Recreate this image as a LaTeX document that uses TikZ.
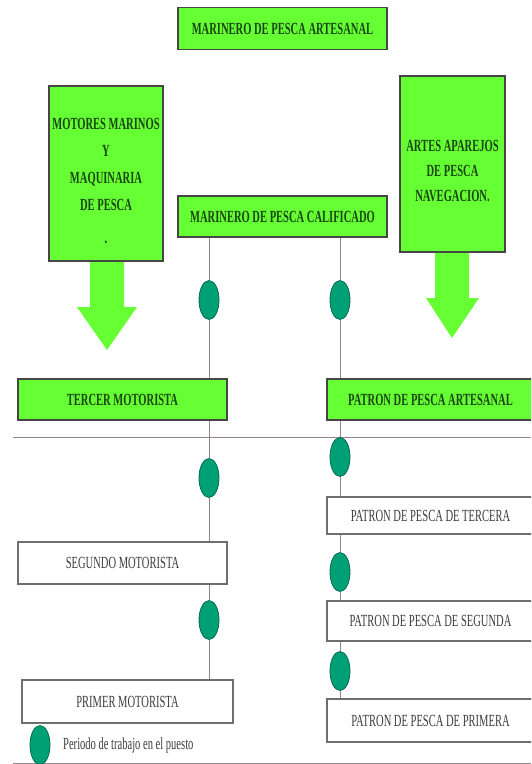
\documentclass[tikz,border=0pt]{standalone}
\usepackage{fontspec}
\setmainfont{Liberation Serif}
\newfontfamily\narrow[FakeStretch=0.62]{Liberation Serif}
\usetikzlibrary{shapes.geometric}
\definecolor{limegreen}{RGB}{102,255,51}
\definecolor{boxline}{RGB}{70,70,70}
\definecolor{boxgray}{RGB}{110,110,110}
\definecolor{textgray}{RGB}{60,60,60}
\definecolor{textgreen}{RGB}{25,70,20}
\definecolor{tealgreen}{RGB}{0,160,118}
\definecolor{tealdark}{RGB}{0,105,80}
\definecolor{rulecol}{RGB}{150,132,138}
\begin{document}
\begin{tikzpicture}[x=1pt,y=-1pt,
  greenbox/.style={draw=boxline,line width=1.6pt,fill=limegreen,inner sep=0pt,text=textgreen,
    font=\narrow\bfseries\fontsize{17}{19}\selectfont,minimum width=209pt,minimum height=42pt},
  bodytext/.style={align=center,inner sep=0pt,text=textgreen,font=\narrow\bfseries\fontsize{17}{27}\selectfont},
  whitebox/.style={draw=boxgray,line width=1.2pt,fill=white,text=textgray,inner sep=0pt,
    font=\narrow\fontsize{17}{19}\selectfont,minimum width=209pt,minimum height=41pt},
  puesto/.style={ellipse,draw=tealdark,fill=tealgreen,line width=0.8pt,inner sep=0pt,
    minimum width=20pt,minimum height=39pt},
  link/.style={draw=rulecol,line width=1pt}]
\useasboundingbox (0,0) rectangle (531,764);
\clip (0,0) rectangle (531,764);
% arrow stems
\fill[limegreen] (90,255) -- (90,307) -- (77,307) -- (107,350) -- (137,307) -- (124,307) -- (124,255) -- cycle;
\fill[limegreen] (435,248) -- (435,298) -- (426,298) -- (452,338) -- (479,298) -- (469,298) -- (469,248) -- cycle;
% green boxes
\node[greenbox] (artesanal) at (282.5,28.5) {MARINERO DE PESCA ARTESANAL};
\node[greenbox,minimum height=41pt] (calif) at (282.5,216.5) {MARINERO DE PESCA CALIFICADO};
\node[greenbox,minimum width=114pt,minimum height=175pt] (motores) at (106,173.5) {};
\node[bodytext] (motorestxt) at (106,181) {MOTORES MARINOS\\Y\\MAQUINARIA\\DE PESCA\\[6pt].};
\node[greenbox,minimum width=105pt,minimum height=176pt] (artes) at (452.5,164) {};
\node[bodytext,font=\narrow\bfseries\fontsize{17}{25}\selectfont] (artestxt) at (452.5,171)
  {ARTES APAREJOS\\DE PESCA\\NAVEGACION.};
\node[greenbox,minimum height=41pt] (tercer) at (122.5,399.5) {TERCER MOTORISTA};
\node[greenbox,minimum width=207pt,minimum height=41pt] (patron) at (430.5,399.5) {PATRON DE PESCA ARTESANAL};
% white boxes
\node[whitebox,minimum width=207pt,minimum height=37pt] (tercera) at (430.5,515.5) {PATRON DE PESCA DE TERCERA};
\node[whitebox,minimum height=42pt] (segundo) at (122.5,563) {SEGUNDO MOTORISTA};
\node[whitebox,minimum width=207pt,minimum height=40pt] (segunda) at (430.5,621) {PATRON DE PESCA DE SEGUNDA};
\node[whitebox,minimum width=211pt,minimum height=43pt] (primer) at (127.5,701.5) {PRIMER MOTORISTA};
\node[whitebox,minimum width=207pt,minimum height=43pt] (primera) at (430.5,720.5) {PATRON DE PESCA DE PRIMERA};
% rules
\draw[link] (13,437) -- (531,437);
\draw[link] (13,763) -- (531,763);
% periods
\node[puesto] (m1) at (209,300) {};
\node[puesto] (m2) at (209,478) {};
\node[puesto] (m3) at (209,620) {};
\node[puesto] (p1) at (340,300) {};
\node[puesto] (p2) at (340,457) {};
\node[puesto] (p3) at (340,572) {};
\node[puesto] (p4) at (340,671) {};
\draw[link] (calif.south -| m1) -- (m1.north) (m1.south) -- (tercer.north -| m1);
\draw[link] (tercer.south -| m2) -- (m2.north) (m2.south) -- (segundo.north -| m2);
\draw[link] (segundo.south -| m3) -- (m3.north) (m3.south) -- (primer.north -| m3);
\draw[link] (calif.south -| p1) -- (p1.north) (p1.south) -- (patron.north -| p1);
\draw[link] (patron.south -| p2) -- (p2.north) (p2.south) -- (tercera.north -| p2);
\draw[link] (tercera.south -| p3) -- (p3.north) (p3.south) -- (segunda.north -| p3);
\draw[link] (segunda.south -| p4) -- (p4.north) (p4.south) -- (primera.north -| p4);
% legend
\node[puesto] (clave) at (40,745) {};
\node[anchor=west,inner sep=0pt,text=textgray,font=\narrow\fontsize{17}{19}\selectfont] (clavetxt) at (63,745) {Periodo de trabajo en el puesto};
\end{tikzpicture}
\end{document}
